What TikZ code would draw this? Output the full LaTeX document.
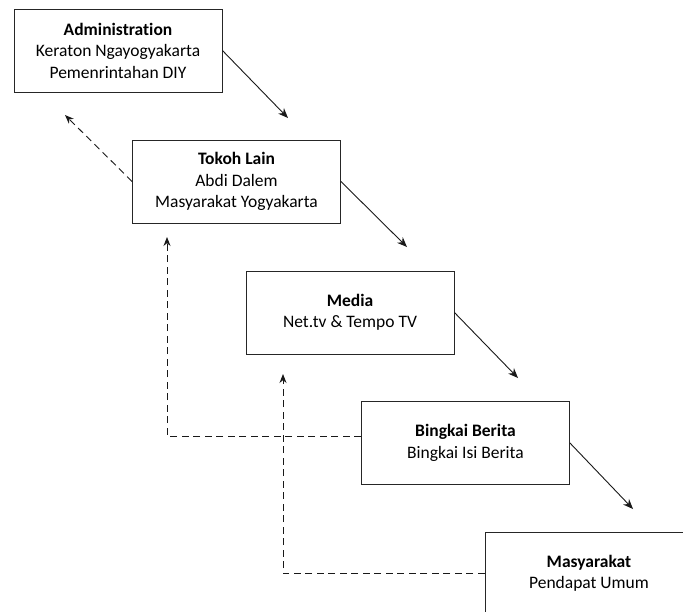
\documentclass[tikz,border=0pt]{standalone}
\usepackage{fontspec}
\setmainfont{Carlito}[Ligatures=NoCommon]
\usetikzlibrary{arrows.meta}
\begin{document}
\begin{tikzpicture}[x=1pt,y=-1pt,
  box/.style={draw=black!85, line width=0.9pt, minimum width=208pt, minimum height=83pt,
    align=center, inner sep=0pt, font=\fontsize{17.5}{21.5}\selectfont, text=black},
  solidarrow/.style={draw=black!90, line width=0.9pt, -{Stealth[length=10pt,width=8pt]}},
  dasharrow/.style={draw=black!90, line width=0.9pt, dash pattern=on 7pt off 4.5pt, -{Stealth[length=9pt,width=7pt]}}]
\clip (0,0) rectangle (683,611);
\fill[white] (0,0) rectangle (683,611);
\node[box] (b1) at (118,50.5) {\textbf{Administration}\\Keraton Ngayogyakarta\\Pemenrintahan DIY};
\node[box] (b2) at (236.5,181.5) {\textbf{Tokoh Lain}\\Abdi Dalem\\Masyarakat Yogyakarta};
\node[box] (b3) at (350,312.5) {\textbf{Media}\\Net.tv \& Tempo TV};
\node[box] (b4) at (465.5,443) {\textbf{Bingkai Berita}\\Bingkai Isi Berita};
\node[box] (b5) at (589,573.5) {\textbf{Masyarakat}\\Pendapat Umum};
\coordinate (t1) at (288,118);
\coordinate (t2) at (407,247);
\coordinate (t3) at (518,378);
\coordinate (t4) at (633,509);
\coordinate (d1) at (65,115);
\coordinate (c2) at (167,436);
\coordinate (d2) at (167,237);
\coordinate (c3) at (283,573.5);
\coordinate (d3) at (283,374);
\draw[solidarrow] (b1.east) -- (t1);
\draw[solidarrow] (b2.east) -- (t2);
\draw[solidarrow] (b3.east) -- (t3);
\draw[solidarrow] (b4.east) -- (t4);
\draw[dasharrow] (b2.west) -- (d1);
\draw[dasharrow] ([yshift=7pt]b4.west) -- (c2) -- (d2);
\draw[dasharrow] (b5.west) -- (c3) -- (d3);
\end{tikzpicture}
\end{document}
